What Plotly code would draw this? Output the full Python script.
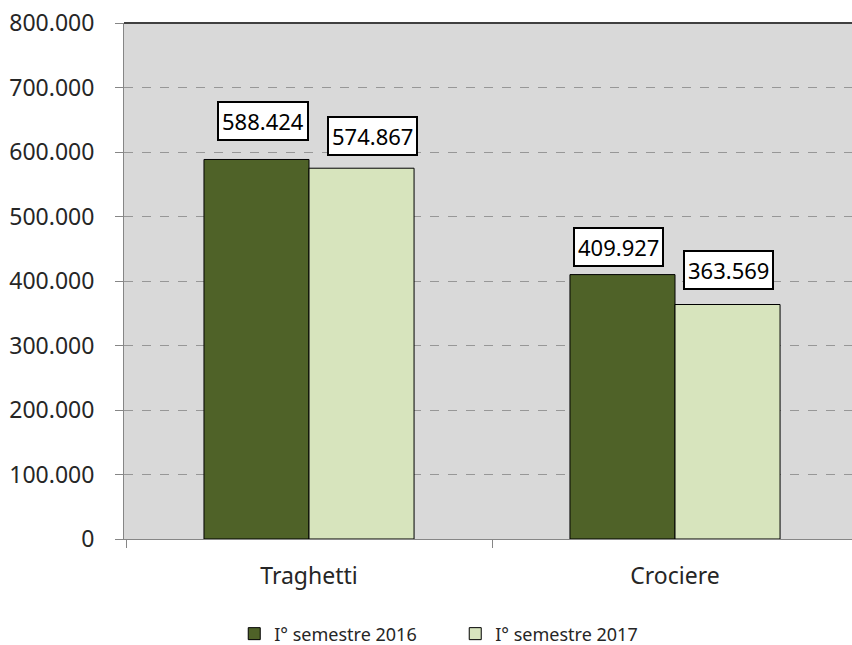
import plotly.graph_objects as go

categories = ["Traghetti", "Crociere"]
series_names = ["I° semestre 2016", "I° semestre 2017"]
values_2016 = [588424, 409927]
values_2017 = [574867, 363569]
y_tick_vals = [0, 100000, 200000, 300000, 400000, 500000, 600000, 700000, 800000]

def fmt(v):
    return f"{v:,}".replace(",", ".")

y_tick_text = [fmt(v) for v in y_tick_vals]

colors = ["#4f6228", "#d7e4bd"]
FONT = "Noto Sans"

fig = go.Figure()
for name, vals, col in zip(series_names, [values_2016, values_2017], colors):
    fig.add_trace(go.Bar(
        x=categories, y=vals, name=name,
        marker=dict(color=col, line=dict(color="#000000", width=1)),
    ))

# label placement tweaks (pixels) per series/category
label_shift = {
    (0, 0): (7, 38), (1, 0): (11, 32),
    (0, 1): (-4, 28), (1, 1): (1, 35),
}
bargap = 0.426
half = (1 - bargap) / 4
for s, vals in enumerate([values_2016, values_2017]):
    for c, v in enumerate(vals):
        dx, dy = label_shift[(s, c)]
        fig.add_annotation(
            x=c + (-half if s == 0 else half), y=v, xref="x", yref="y",
            text=fmt(v), showarrow=False, xshift=dx, yshift=dy,
            font=dict(family=FONT, size=22, color="#000000"),
            bgcolor="#ffffff", bordercolor="#000000", borderwidth=2, borderpad=3,
        )

fig.add_shape(type="line", xref="paper", yref="paper", x0=0, x1=1, y0=1, y1=1,
              line=dict(color="#404040", width=2))

fig.update_layout(
    width=852, height=645,
    margin=dict(l=124, r=0, t=23, b=106, autoexpand=False),
    paper_bgcolor="#ffffff", plot_bgcolor="#d9d9d9",
    barmode="group", bargap=bargap, bargroupgap=0,
    font=dict(family=FONT, color="#262626"),
    showlegend=True,
    legend=dict(orientation="h", x=0.455, xanchor="center", y=-0.184, yanchor="middle",
                font=dict(family=FONT, size=18, color="#262626"),
                entrywidth=176, entrywidthmode="pixels", itemwidth=30,
                bgcolor="rgba(0,0,0,0)"),
    xaxis=dict(
        range=[-0.5055, 1.4836], showgrid=False, zeroline=False, automargin=False,
        showline=True, linecolor="#868686", linewidth=1,
        ticks="outside", tickson="boundaries", ticklen=8, tickcolor="#868686",
        tickfont=dict(family=FONT, size=23, color="#262626"),
        ticklabelstandoff=16,
    ),
    yaxis=dict(
        range=[0, 800000], tickvals=y_tick_vals, ticktext=y_tick_text, automargin=False,
        showgrid=True, gridcolor="#979797", griddash="dash", gridwidth=1,
        zeroline=False, showline=True, linecolor="#868686", linewidth=1,
        ticks="outside", ticklen=8, tickcolor="#868686",
        tickfont=dict(family=FONT, size=23, color="#262626"),
        ticklabelstandoff=16,
    ),
)

fig.write_html("out.html", config={"displayModeBar": False},
               post_script="document.body.style.margin='0';document.body.style.padding='0';")
